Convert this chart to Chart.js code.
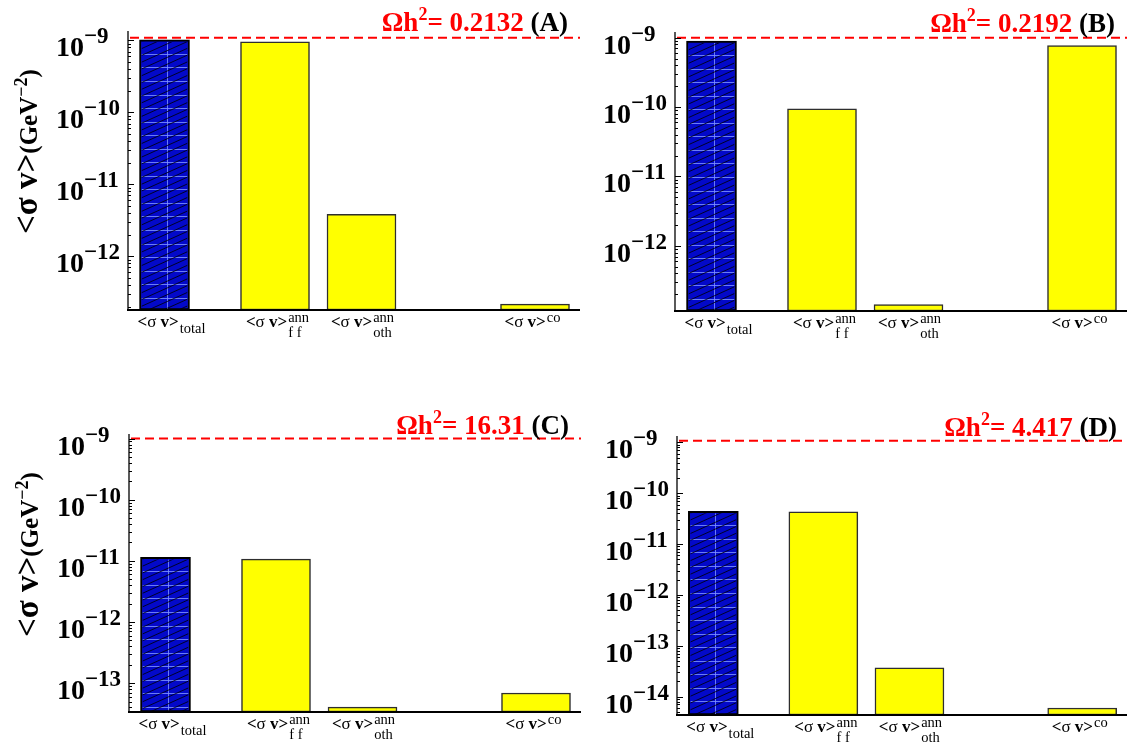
<!DOCTYPE html>
<html>
<head>
<meta charset="utf-8">
<title>Annihilation and coannihilation cross sections</title>
<script src="https://cdn.jsdelivr.net/npm/chart.js@4.4.1/dist/chart.umd.min.js"></script>
<style>
  html, body { margin: 0; padding: 0; background: #ffffff; }
  #wrap { position: relative; width: 1127px; height: 745px; overflow: hidden; background: #ffffff; }
  #wrap canvas { position: absolute; }
</style>
</head>
<body>
<div id="wrap">
  <canvas id="panelA"></canvas>
  <canvas id="panelB"></canvas>
  <canvas id="panelC"></canvas>
  <canvas id="panelD"></canvas>
</div>
<script>
// ---- data -------------------------------------------------------------
// bar categories and the scripts attached to each <σ v> label
const categories = ['total', 'ff', 'oth', 'co'];
const labelSup = ['', 'ann', 'ann', 'co'];
const labelSub = ['total', 'f f', 'oth', ''];

// thermally averaged cross sections <σ v> in GeV^-2, one array per benchmark
const valuesA = [1.02e-9, 9.6e-10, 3.83e-12, 2.16e-13];
const valuesB = [8.96e-10, 9.45e-11, 1.42e-13, 7.67e-10];
const valuesC = [1.14e-11, 1.07e-11, 4.06e-14, 6.89e-14];
const valuesD = [4.43e-11, 4.30e-11, 3.70e-14, 5.97e-15];

// relic density of each benchmark and its tag
const relicDensity = ['0.2132', '0.2192', '16.31', '4.417'];
const panelTags = ['(A)', '(B)', '(C)', '(D)'];

// level of the dashed red reference line
const referenceLevel = [1.09e-9, 1.0e-9, 1.0e-9, 1.08e-9];

// logarithmic axis extent of every panel
const axisMin = [1.79e-13, 1.15e-13, 3.37e-14, 4.35e-15];
const axisMax = [1.355e-9, 1.208e-9, 1.19e-9, 1.336e-9];

// decades labelled on the y axis
const tickExpA = [-9, -10, -11, -12];
const tickExpB = [-9, -10, -11, -12];
const tickExpC = [-9, -10, -11, -12, -13];
const tickExpD = [-9, -10, -11, -12, -13, -14];

// ---- layout -------------------------------------------------------------
const SERIF = '"Liberation Serif", "Times New Roman", "DejaVu Serif", serif';
const PLOT_WIDTH = 452;                       // x scale runs in pixels from the y axis
const slotCenters = [36.5, 147, 233.5, 407];  // bar slot centres along the x scale
const labelNudge = [7, 2.5, 1, -2.5];
const panelBoxes = [
  { left: 0,   top: 0,   width: 585, height: 372, pad: { left: 128, top: 31, right: 5, bottom: 62 } },
  { left: 585, top: 0,   width: 542, height: 372, pad: { left: 90,  top: 32, right: 0, bottom: 61 } },
  { left: 0,   top: 372, width: 585, height: 373, pad: { left: 129, top: 62, right: 4, bottom: 33 } },
  { left: 585, top: 372, width: 542, height: 373, pad: { left: 92,  top: 64, right: 0, bottom: 30 } }
];

const BLUE = '#0309c9';
const YELLOW = '#ffff00';

// ---- text helpers ---------------------------------------------------------
function segWidth(ctx, segs) {
  let w = 0;
  for (const s of segs) { ctx.font = s.font; w += ctx.measureText(s.t).width; }
  return w;
}
function drawSegs(ctx, segs, x, y) {
  let cx = x;
  for (const s of segs) {
    ctx.font = s.font;
    ctx.fillStyle = s.color || '#000';
    ctx.fillText(s.t, cx, y + (s.dy || 0));
    cx += ctx.measureText(s.t).width;
  }
  return cx;
}

// ---- decorations: hatch, axes, ticks, labels, titles ----------------------
const decor = {
  id: 'decor',
  afterDatasetsDraw(chart, args, opts) {
    const ctx = chart.ctx;
    // hatched texture of the total bar
    const el = chart.getDatasetMeta(0).data[0];
    if (!el) return;
    const { x, y, base, width } = el.getProps(['x', 'y', 'base', 'width'], true);
    const bw = 2;
    const top = Math.min(y, base), bottom = Math.max(y, base);
    const L = x - width / 2 + bw, R = x + width / 2 - bw, T = top + bw, B = bottom - 0.5;
    ctx.save();
    ctx.beginPath();
    ctx.rect(L, T, R - L, B - T);
    ctx.clip();
    ctx.strokeStyle = 'rgba(125,145,255,0.85)';
    ctx.lineWidth = 1;
    ctx.beginPath();
    for (let yy = top + 14; yy < B; yy += 13.55) {
      ctx.moveTo(L, Math.round(yy) + 0.5);
      ctx.lineTo(R, Math.round(yy) + 0.5);
    }
    ctx.moveTo(Math.round(x + 2) + 0.5, T);
    ctx.lineTo(Math.round(x + 2) + 0.5, B);
    ctx.stroke();
    const slope = 0.45, step = 6.78, w = R - L;
    ctx.strokeStyle = 'rgba(0,0,0,0.9)';
    ctx.lineWidth = 0.9;
    ctx.beginPath();
    for (let c = T; c < B + slope * w + step; c += step) {
      ctx.moveTo(L, c);
      ctx.lineTo(R, c - slope * w);
    }
    ctx.stroke();
    ctx.restore();
  },
  afterDraw(chart, args, opts) {
    const ctx = chart.ctx;
    const ca = chart.chartArea;
    const xs = chart.scales.x, ys = chart.scales.y;
    const p = opts.panel;
    ctx.save();

    // dashed reference level
    const ry = ys.getPixelForValue(referenceLevel[p]);
    ctx.setLineDash([9, 5]);
    ctx.strokeStyle = '#ff0000';
    ctx.lineWidth = 2;
    ctx.beginPath();
    ctx.moveTo(ca.left + 2, ry);
    ctx.lineTo(ca.right, ry);
    ctx.stroke();
    ctx.setLineDash([]);

    // axes
    ctx.strokeStyle = '#000';
    ctx.lineWidth = 1.3;
    ctx.beginPath();
    ctx.moveTo(ca.left, ca.top);
    ctx.lineTo(ca.left, ca.bottom);
    ctx.stroke();
    ctx.lineWidth = 2;
    ctx.beginPath();
    ctx.moveTo(ca.left - 1, ca.bottom);
    ctx.lineTo(ca.right, ca.bottom);
    ctx.stroke();

    // major and minor ticks on the inside of the y axis
    ctx.lineWidth = 1;
    ctx.beginPath();
    const lo = Math.floor(Math.log10(ys.min)), hi = Math.ceil(Math.log10(ys.max));
    for (let e = lo; e <= hi; e++) {
      for (let k = 1; k <= 9; k++) {
        const v = k * Math.pow(10, e);
        if (v < ys.min || v > ys.max) continue;
        const py = Math.round(ys.getPixelForValue(v)) + 0.5;
        ctx.moveTo(ca.left, py);
        ctx.lineTo(ca.left + (k === 1 ? 6 : 3), py);
      }
    }
    ctx.stroke();

    // decade labels 10^n
    ctx.textBaseline = 'alphabetic';
    ctx.textAlign = 'left';
    for (const e of opts.exps) {
      const py = ys.getPixelForValue(Math.pow(10, e));
      drawSegs(ctx, [
        { t: '10', font: 'bold 28px ' + SERIF, dy: 16 },
        { t: '\u2212' + Math.abs(e), font: 'bold 23px ' + SERIF, dy: 3 }
      ], ca.left - 72, py);
    }

    // category labels <σ v> with sub/superscripts
    const baseSegs = [
      { t: '<', font: 'bold 17px ' + SERIF },
      { t: '\u03c3', font: '17px ' + SERIF },
      { t: ' v', font: 'bold 17px ' + SERIF },
      { t: '>', font: 'bold 17px ' + SERIF }
    ];
    const scriptFont = '14.5px ' + SERIF;
    categories.forEach((c, i) => {
      const cx = xs.getPixelForValue(slotCenters[i]) + labelNudge[i];
      const bwid = segWidth(ctx, baseSegs);
      ctx.font = scriptFont;
      const supW = labelSup[i] ? ctx.measureText(labelSup[i]).width : 0;
      const subW = labelSub[i] ? ctx.measureText(labelSub[i]).width : 0;
      const total = bwid + 1 + Math.max(supW, subW);
      const x0 = cx - total / 2;
      const end = drawSegs(ctx, baseSegs, x0, ca.bottom + 17);
      ctx.font = scriptFont;
      ctx.fillStyle = '#000';
      if (labelSup[i]) ctx.fillText(labelSup[i], end + 1, ca.bottom + 11.7);
      if (labelSub[i]) ctx.fillText(labelSub[i], end + 1, ca.bottom + (labelSup[i] ? 26.5 : 22.7));
    });

    // relic density title
    const tSegs = [
      { t: '\u03a9h', font: 'bold 27px ' + SERIF, color: '#ff0000' },
      { t: '2', font: 'bold 18px ' + SERIF, color: '#ff0000', dy: -11 },
      { t: '= ' + relicDensity[p], font: 'bold 27px ' + SERIF, color: '#ff0000' },
      { t: ' ' + panelTags[p], font: 'bold 27px ' + SERIF, color: '#000' }
    ];
    const tw = segWidth(ctx, tSegs);
    drawSegs(ctx, tSegs, ca.left + 440 - tw, ca.top - 0.5);

    // y-axis title on the left-hand panels
    if (opts.yTitle) {
      ctx.translate(ca.left - 91, ca.top + 203);
      ctx.rotate(-Math.PI / 2);
      drawSegs(ctx, [
        { t: '<\u03c3 v>', font: 'bold 33px ' + SERIF },
        { t: '(GeV', font: 'bold 25px ' + SERIF },
        { t: '\u22122', font: 'bold 18px ' + SERIF, dy: -10 },
        { t: ')', font: 'bold 25px ' + SERIF }
      ], 0, 0);
    }
    ctx.restore();
  }
};

// ---- panels --------------------------------------------------------------
function buildPanel(canvasId, p, values, exps, yTitle) {
  const box = panelBoxes[p];
  const canvas = document.getElementById(canvasId);
  canvas.width = box.width;
  canvas.height = box.height;
  canvas.style.left = box.left + 'px';
  canvas.style.top = box.top + 'px';
  canvas.style.width = box.width + 'px';
  canvas.style.height = box.height + 'px';

  return new Chart(canvas, {
    type: 'bar',
    data: {
      datasets: [
        {
          label: '<σ v> total',
          data: [{ x: slotCenters[0], y: values[0] }],
          backgroundColor: BLUE,
          borderColor: '#000000',
          borderWidth: 2,
          borderSkipped: false,
          barThickness: 50,
          grouped: false
        },
        {
          label: 'channels',
          data: [1, 2, 3].map(i => ({ x: slotCenters[i], y: values[i] })),
          backgroundColor: YELLOW,
          borderColor: '#2e2e2e',
          borderWidth: 1.5,
          borderSkipped: false,
          barThickness: 69,
          grouped: false
        }
      ]
    },
    options: {
      responsive: false,
      animation: false,
      devicePixelRatio: 1,
      layout: { padding: box.pad },
      plugins: {
        legend: { display: false },
        tooltip: { enabled: false },
        decor: { panel: p, exps: exps, yTitle: yTitle }
      },
      scales: {
        x: { type: 'linear', min: 0, max: PLOT_WIDTH, offset: false, display: false },
        y: { type: 'logarithmic', min: axisMin[p], max: axisMax[p], display: false }
      }
    },
    plugins: [decor]
  });
}

buildPanel('panelA', 0, valuesA, tickExpA, true);
buildPanel('panelB', 1, valuesB, tickExpB, false);
buildPanel('panelC', 2, valuesC, tickExpC, true);
buildPanel('panelD', 3, valuesD, tickExpD, false);
</script>
</body>
</html>
